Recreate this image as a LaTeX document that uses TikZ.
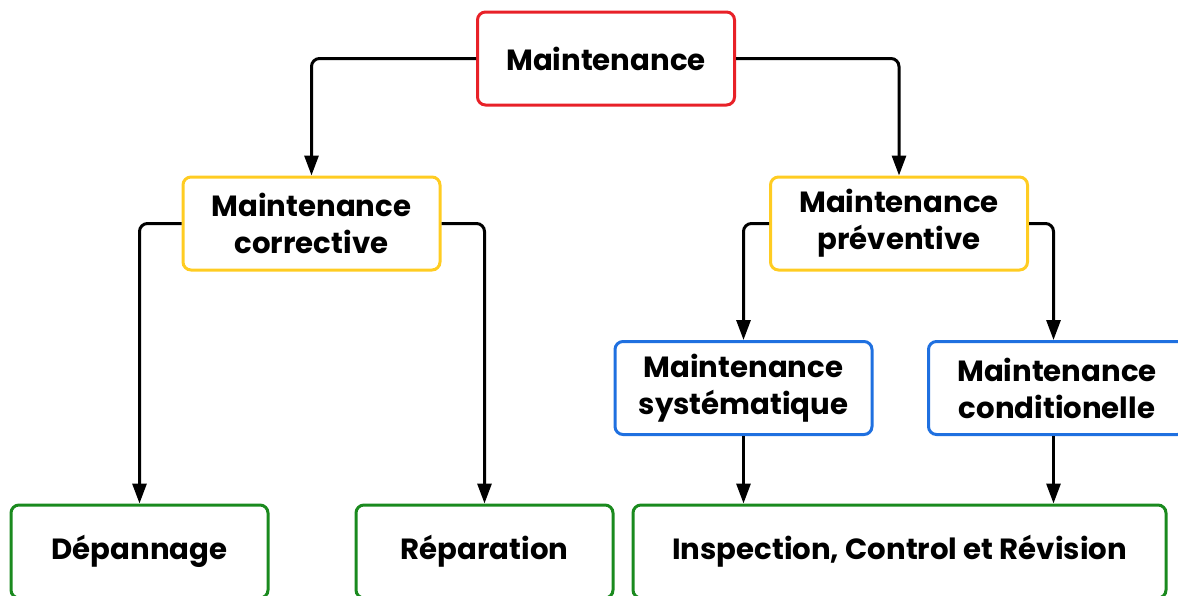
\documentclass[tikz,border=0pt]{standalone}
\usepackage{fontspec}
\setmainfont{Poppins}
\usetikzlibrary{arrows.meta,positioning}
\definecolor{BoxRed}{HTML}{E82128}
\definecolor{BoxYellow}{HTML}{FFCC22}
\definecolor{BoxBlue}{HTML}{1F70E0}
\definecolor{BoxGreen}{HTML}{1A8A1E}

\begin{document}
\begin{tikzpicture}[x=0.5pt,y=-0.5pt,
    box/.style={draw,line width=1.5pt,rounded corners=4pt,align=center,
      minimum width=128.5pt,minimum height=46.5pt,inner sep=0pt,
      font=\fontsize{14.6}{18.5}\selectfont\bfseries},
    link/.style={line width=1.5pt,rounded corners=4pt,
      -{Triangle[length=10pt,width=7pt]}}]
  \useasboundingbox (0,0) rectangle (1178,595);
  % levels
  \node[box,BoxRed,text=black] (maint) at (606,58.5) {Maintenance};
  \node[box,BoxYellow,text=black] (corr) at (311.5,223.5) {Maintenance\\corrective};
  \node[box,BoxYellow,text=black] (prev) at (899,223.5) {Maintenance\\préventive};
  \node[box,BoxBlue,text=black] (syst) at (743.5,388) {Maintenance\\systématique};
  \node[box,BoxBlue,text=black] (cond) at (1057,388) {Maintenance\\conditionelle};
  \node[box,BoxGreen,text=black] (dep) at (139.5,551.5) {Dépannage};
  \node[box,BoxGreen,text=black] (rep) at (484.5,551.5) {Réparation};
  \node[box,BoxGreen,text=black,minimum width=266.5pt] (insp) at (899.5,551.5) {Inspection, Control et Révision};
  % connectors
  \draw[link] (maint.west) -| (corr.north);
  \draw[link] (maint.east) -| (prev.north);
  \draw[link] (corr.west) -| (dep.north);
  \draw[link] (corr.east) -| (rep.north);
  \draw[link] (prev.west) -| (syst.north);
  \draw[link] (prev.east) -| ([xshift=-1.75pt]cond.north);
  \draw[link] (syst.south) -- (syst.south |- insp.north);
  \draw[link] ([xshift=-1.75pt]cond.south) -- ([xshift=-1.75pt]cond.south |- insp.north);
\end{tikzpicture}
\end{document}
